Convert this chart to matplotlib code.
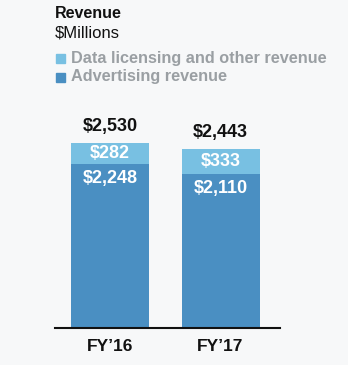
import matplotlib.pyplot as plt

plt.rcParams['font.family'] = ['Liberation Sans', 'DejaVu Sans']

years = ["FY\u201916", "FY\u201917"]
advertising = [2248, 2110]
data_licensing = [282, 333]
totals = [2530, 2443]

c_light = '#78c0e2'
c_dark = '#4a8fc2'
bg = '#f7f8f9'

fig = plt.figure(figsize=(3.48, 3.65), dpi=100, facecolor=bg)
W, H = 348, 365
ax = fig.add_axes([55 / W, (H - 328) / H, 225 / W, 228 / H])
ax.set_facecolor(bg)

x = range(len(years))
ax.bar(x, advertising, width=0.706, color=c_dark)
ax.bar(x, data_licensing, width=0.706, bottom=advertising, color=c_light)

ax.set_xlim(-0.498, 1.538)
ax.set_ylim(0, 2530 * 228 / 185)

for i in x:
    ax.annotate(f"${totals[i]:,}", (i, totals[i]), xytext=(0, 12), textcoords='offset points',
                ha='center', va='center', fontsize=13, fontweight='bold', color='#111111')
    ax.annotate(f"${data_licensing[i]:,}", (i, advertising[i] + data_licensing[i] / 2),
                ha='center', va='center', fontsize=13, fontweight='bold', color='white')
    ax.annotate(f"${advertising[i]:,}", (i, advertising[i]), xytext=(0, -11), textcoords='offset points',
                ha='center', va='center', fontsize=13, fontweight='bold', color='white')

for s in ['top', 'right', 'left']:
    ax.spines[s].set_visible(False)
ax.spines['bottom'].set_linewidth(1.5)
ax.spines['bottom'].set_color('#111111')
ax.set_yticks([])
ax.set_xticks(list(x))
ax.set_xticklabels(years, fontsize=12.5, fontweight='bold', color='#111111')
ax.tick_params(axis='x', length=0, pad=8)

# header and legend
fig.text(55 / W, 1 - 14 / H, "Revenue", fontsize=11.5, fontweight='bold', color='#111111', va='center')
fig.text(55 / W, 1 - 33 / H, "$Millions", fontsize=12, color='#111111', va='center')
leg_items = [("Data licensing and other revenue", c_light), ("Advertising revenue", c_dark)]
for k, (lab, col) in enumerate(leg_items):
    yc = 58 + k * 19
    fig.patches.append(plt.Rectangle((56 / W, 1 - (yc + 4.5) / H), 9 / W, 9 / H,
                                     transform=fig.transFigure, color=col))
    fig.text(71 / W, 1 - yc / H, lab, fontsize=11.7, fontweight='bold', color='#9a9fa3', va='center')

plt.savefig("out.png", dpi=100, facecolor=bg)
